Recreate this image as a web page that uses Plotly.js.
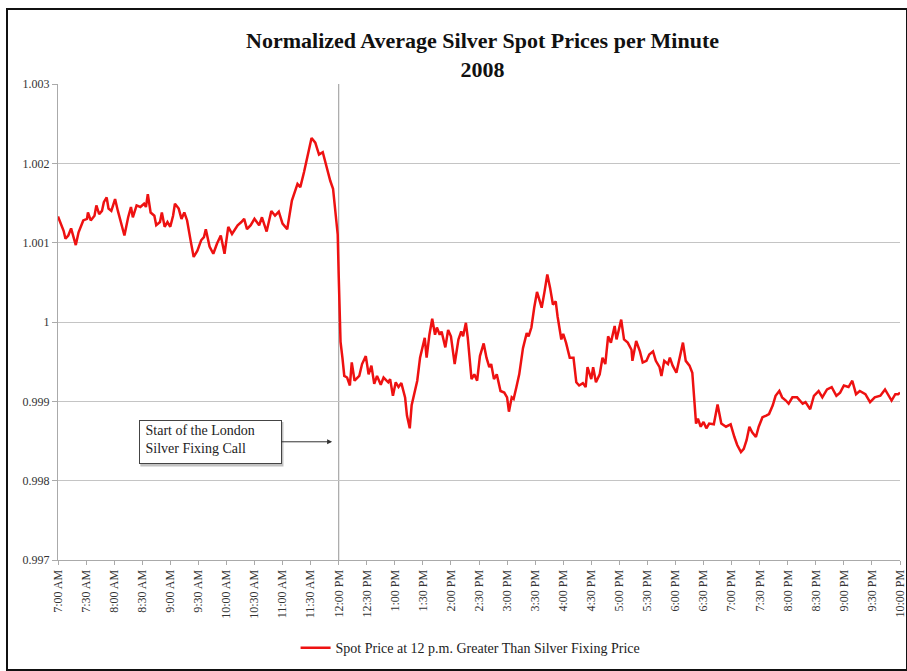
<!DOCTYPE html>
<html>
<head>
<meta charset="utf-8">
<script src="https://cdn.plot.ly/plotly-3.0.1.min.js"></script>
<style>
  body { margin: 0; background: #fff; }
  #chart { width: 907px; height: 671px; }
  #frame { position: absolute; left: 6px; top: 8px; width: 898px; height: 659px; border: 2px solid #111; pointer-events: none; }
</style>
</head>
<body>
<div id="chart"></div>
<div id="frame"></div>
<script>
// minutes after 7:00 AM
var minutes = [
  0, 3, 6, 8, 11, 14, 16, 19, 22, 27,
  31, 32, 35, 39, 41, 44, 47, 49, 52, 54,
  57, 61, 64, 67, 71, 75, 78, 80, 84, 88,
  92, 94, 96, 99, 103, 105, 109, 111, 114, 117,
  120, 123, 125, 129, 132, 135, 138, 142, 145, 149,
  153, 156,
  158, 162, 166, 170, 174, 178, 182, 186, 192, 196,
  199, 202, 206, 210, 215, 218, 223, 228, 232, 236,
  240, 245, 250, 256, 259, 263, 266, 271, 275, 279,
  283, 286, 291, 294, 297, 298, 299, 300, 301, 302,
  304,
  306, 309, 312, 314, 317, 322, 325, 329, 332, 335,
  338, 341, 345, 348, 353, 355, 358, 361, 364, 367,
  371, 373, 376, 378, 381, 384, 387, 392, 394, 397,
  400, 403, 405, 408, 410, 414, 417, 420, 424, 428,
  431, 433, 436, 438, 442, 445, 448,
  451, 455, 458, 461, 463, 466, 469, 473, 477, 480,
  482, 485, 487, 490, 493, 497, 501, 503, 506, 509,
  512, 514, 517, 520, 523, 526, 529, 532, 534, 538,
  540, 543, 547, 551, 554, 557, 561, 564, 566, 570,
  572, 575, 579, 582, 585, 588, 591, 595, 597, 602,
  605,
  609, 613, 614, 618, 622, 625, 629, 632, 636, 639,
  643, 645, 648, 652, 654, 657, 661, 664, 668, 671,
  675, 678, 680, 682, 684, 687, 690, 693, 696, 701,
  705, 709, 714, 719, 723, 726, 730, 733, 736, 739,
  742, 746, 749, 753, 757, 760, 764, 767,
  771, 774, 778, 781, 785, 790, 796, 799, 804, 808,
  813, 817, 822, 827, 832, 836, 840, 845, 849, 853,
  857, 863, 868, 873, 879, 884, 891, 895, 898, 900];

var spotPrice = [
  1.00133, 1.00124, 1.00115, 1.00105, 1.00109, 1.00118, 1.00109, 1.00097, 1.00113, 1.00128,
  1.0013, 1.00138, 1.00128, 1.00134, 1.00147, 1.00136, 1.0014, 1.00151, 1.00157, 1.00143,
  1.0014, 1.00155, 1.0014, 1.00126, 1.00109, 1.00132, 1.00145, 1.00132, 1.00147, 1.00145,
  1.00149, 1.00145, 1.00161, 1.00138, 1.00134, 1.00122, 1.00126, 1.00138, 1.0012, 1.00126,
  1.0012, 1.00134, 1.00149, 1.00143, 1.0013, 1.00138, 1.00128, 1.00101, 1.00082, 1.0009,
  1.00103, 1.00107,
  1.00117, 1.00095, 1.00086, 1.00099, 1.00109, 1.00086, 1.0012, 1.00111, 1.00122, 1.00126,
  1.0013, 1.00117, 1.00122, 1.0013, 1.00122, 1.00132, 1.00114, 1.0014, 1.00134, 1.00139,
  1.00124, 1.00117, 1.00153, 1.00174, 1.0017, 1.00189, 1.00205, 1.00232, 1.00226, 1.00211,
  1.00214, 1.00199, 1.00178, 1.00168, 1.00134, 1.0013, 1.0011, 1.0006, 1.0000, 0.99975,
  0.99955,
  0.99932, 0.9993, 0.9992, 0.99949, 0.99926, 0.99932, 0.99947, 0.99957, 0.99934, 0.99945,
  0.99922, 0.99932, 0.99921, 0.9993, 0.99924, 0.99928, 0.99907, 0.99924, 0.99918, 0.99923,
  0.99905, 0.99882, 0.99866, 0.99895, 0.99909, 0.99926, 0.99955, 0.9998, 0.99955, 0.99984,
  1.00004, 0.99984, 0.99993, 0.99984, 0.99988, 0.99968, 0.9999, 0.99982, 0.99947, 0.99978,
  0.99988, 0.99982, 0.99999, 0.9998, 0.99928, 0.99934, 0.99926,
  0.99957, 0.99973, 0.99955, 0.99943, 0.99947, 0.99928, 0.99934, 0.99913, 0.99911, 0.99905,
  0.99887, 0.99905, 0.99903, 0.99918, 0.99934, 0.99967, 0.99986, 0.99982, 0.99993, 1.00018,
  1.00038, 1.0003, 1.00018, 1.00038, 1.0006, 1.00043, 1.00022, 1.00026, 1.00007, 0.99978,
  0.99985, 0.99974, 0.99955, 0.99955, 0.99924, 0.9992, 0.99923, 0.99918, 0.99943, 0.99928,
  0.99943, 0.99924, 0.99934, 0.99955, 0.99947, 0.99982, 0.99974, 0.99995, 0.99978, 1.00003,
  0.99978,
  0.99974, 0.99965, 0.99951, 0.99976, 0.99963, 0.99949, 0.99951, 0.99959, 0.99963, 0.99951,
  0.99943, 0.99932, 0.99951, 0.99947, 0.99955, 0.99945, 0.99936, 0.99953, 0.99974, 0.99951,
  0.99945, 0.99936, 0.99909, 0.99872, 0.99878, 0.99868, 0.99874, 0.99866, 0.99872, 0.99871,
  0.99896, 0.99872, 0.99868, 0.99871, 0.99855, 0.99845, 0.99836, 0.9984, 0.99851, 0.99868,
  0.99861, 0.99855, 0.99868, 0.9988, 0.99882, 0.99884, 0.99895, 0.99907,
  0.99913, 0.99905, 0.99901, 0.99897, 0.99905, 0.99905, 0.99897, 0.99899, 0.9989, 0.99907,
  0.99913, 0.99905, 0.99915, 0.99918, 0.99907, 0.99911, 0.9992, 0.99918, 0.99926, 0.99909,
  0.99913, 0.99909, 0.99899, 0.99905, 0.99907, 0.99915, 0.99901, 0.99909, 0.99909, 0.99911];

var tickMinutes = [0, 30, 60, 90, 120, 150, 180, 210, 240, 270, 300, 330, 360, 390, 420, 450,
  480, 510, 540, 570, 600, 630, 660, 690, 720, 750, 780, 810, 840, 870, 900];
var tickLabels = ["7:00 AM", "7:30 AM", "8:00 AM", "8:30 AM", "9:00 AM", "9:30 AM", "10:00 AM",
  "10:30 AM", "11:00 AM", "11:30 AM", "12:00 PM", "12:30 PM", "1:00 PM", "1:30 PM", "2:00 PM",
  "2:30 PM", "3:00 PM", "3:30 PM", "4:00 PM", "4:30 PM", "5:00 PM", "5:30 PM", "6:00 PM",
  "6:30 PM", "7:00 PM", "7:30 PM", "8:00 PM", "8:30 PM", "9:00 PM", "9:30 PM", "10:00 PM"];

var yTicks = [0.997, 0.998, 0.999, 1, 1.001, 1.002, 1.003];
var yLabels = ["0.997", "0.998", "0.999", "1", "1.001", "1.002", "1.003"];

var fixingMinute = 300;

var serif = "Liberation Serif, Times New Roman, serif";

var trace = {
  x: minutes,
  y: spotPrice,
  type: "scatter",
  mode: "lines",
  name: "Spot Price at 12 p.m. Greater Than Silver Fixing Price",
  line: {color: "#ee1111", width: 2.5}
};

var layout = {
  width: 907,
  height: 671,
  margin: {l: 58, r: 7, t: 84, b: 106},
  paper_bgcolor: "#fff",
  plot_bgcolor: "#fff",
  font: {family: serif, size: 12, color: "#222"},
  title: {
    text: "<b>Normalized Average Silver Spot Prices per Minute<br>2008</b>",
    font: {family: serif, size: 22, color: "#111"},
    x: 0.532, xanchor: "center",
    yref: "container", y: 0.928, yanchor: "middle"
  },
  xaxis: {
    range: [0, 900],
    tickmode: "array",
    tickvals: tickMinutes,
    ticktext: tickLabels,
    tickangle: -90,
    tickfont: {family: serif, size: 12, color: "#333"},
    showgrid: false,
    zeroline: false,
    showline: true,
    linecolor: "#aaa",
    ticks: "outside",
    ticklen: 4,
    tickcolor: "#aaa"
  },
  yaxis: {
    range: [0.997, 1.003],
    tickmode: "array",
    tickvals: yTicks,
    ticktext: yLabels,
    tickfont: {family: serif, size: 12, color: "#333"},
    showgrid: true,
    gridcolor: "#c4c4c4",
    zeroline: false,
    showline: true,
    linecolor: "#aaa",
    ticks: "outside",
    ticklen: 5,
    tickcolor: "#aaa"
  },
  shapes: [{
    type: "line", xref: "x", yref: "y",
    x0: fixingMinute, x1: fixingMinute, y0: 0.997, y1: 1.003,
    line: {color: "#a8a8a8", width: 1.2},
    layer: "below"
  }, {
    // soft shadow behind the note box
    type: "rect", xref: "x", yref: "y",
    x0: 88, x1: 241, y0: 0.99818, y1: 0.99874,
    fillcolor: "#9a9a9a", opacity: 0.6,
    line: {width: 0}
  }],
  annotations: [{
    xref: "x", yref: "y",
    x: 293, y: 0.99849,
    ax: -122, ay: 0,
    text: " Start of the London<br> Silver Fixing Call",
    align: "left",
    valign: "top",
    width: 137,
    height: 38,
    font: {family: serif, size: 14, color: "#222"},
    bgcolor: "#fff",
    bordercolor: "#444",
    borderwidth: 1,
    borderpad: 2,
    showarrow: true,
    arrowhead: 2,
    arrowsize: 1,
    arrowwidth: 1,
    arrowcolor: "#333"
  }],
  showlegend: true,
  legend: {
    orientation: "h",
    x: 0.49, xanchor: "center",
    y: -0.185, yanchor: "middle",
    font: {family: serif, size: 14, color: "#222"}
  }
};

Plotly.newPlot("chart", [trace], layout, {displayModeBar: false, staticPlot: true});
</script>
</body>
</html>
